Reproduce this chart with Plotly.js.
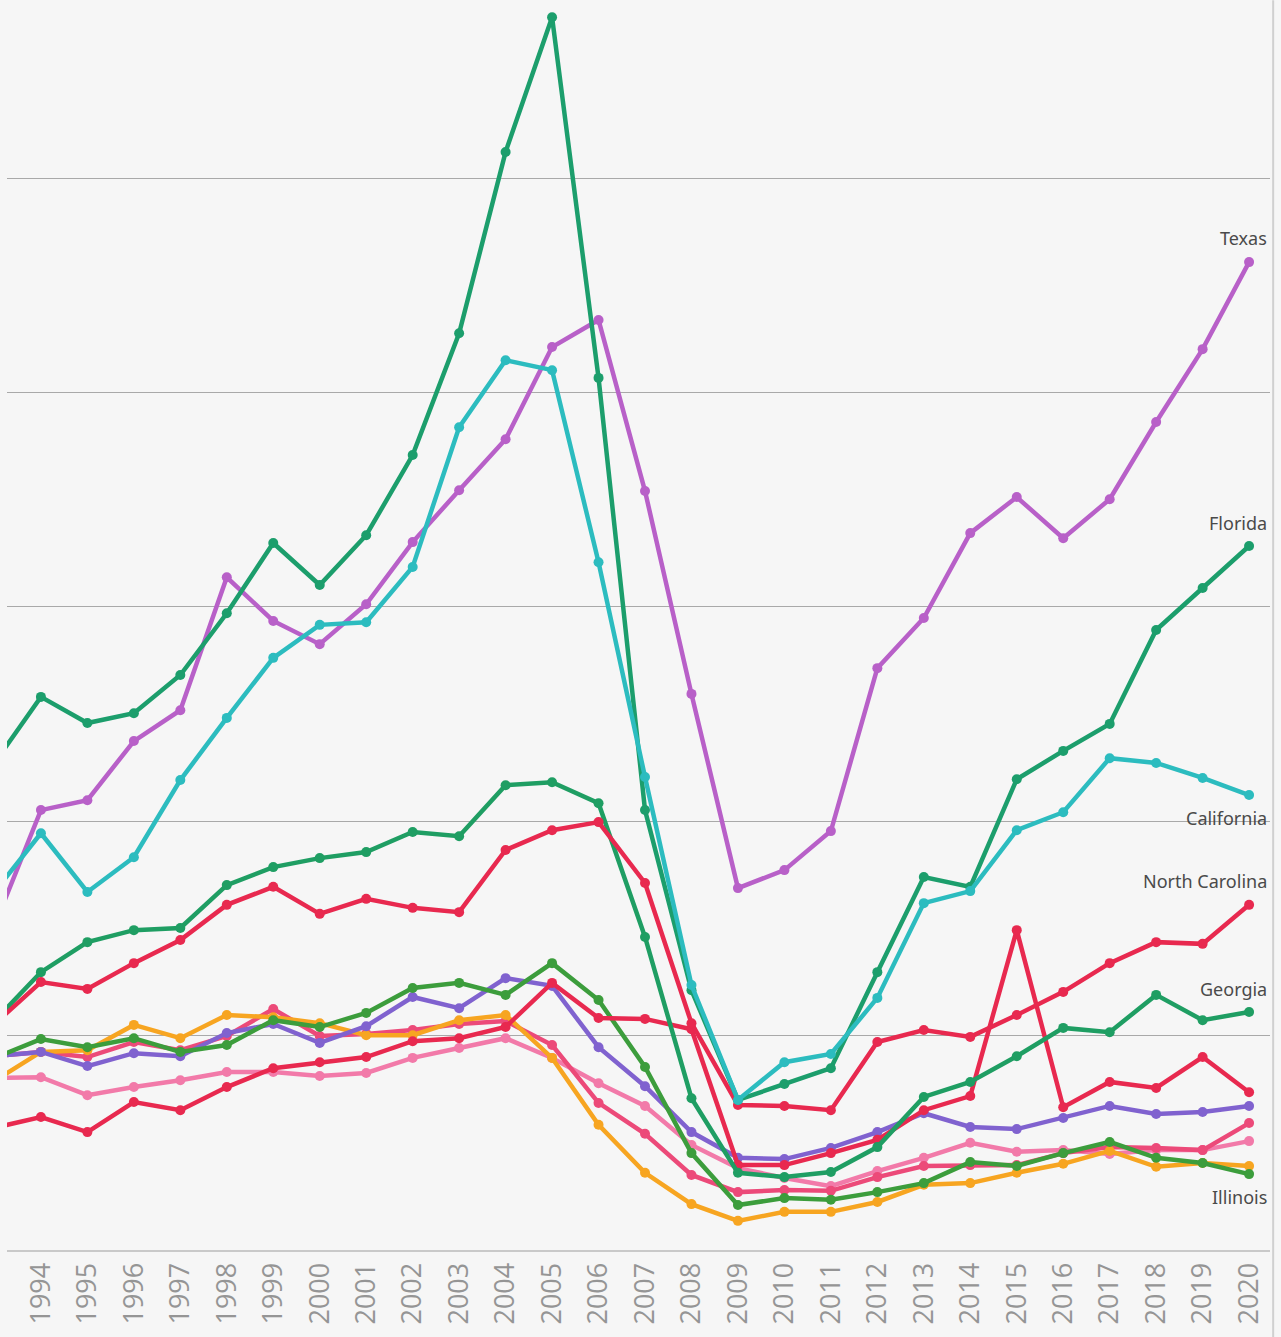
<!DOCTYPE html>
<html>
<head>
<meta charset="utf-8">
<script src="https://cdn.plot.ly/plotly-3.0.1.min.js"></script>
<style>
  html, body { margin: 0; padding: 0; background: #ffffff; }
  #chart { width: 1281px; height: 1337px; }
</style>
</head>
<body>
<div id="chart"></div>
<script>
// Years (1993 lies just beyond the left edge of the visible window)
const years = [1993,1994,1995,1996,1997,1998,1999,2000,2001,2002,2003,2004,2005,2006,2007,2008,2009,2010,2011,2012,2013,2014,2015,2016,2017,2018,2019,2020];
const tickYears = ["1994","1995","1996","1997","1998","1999","2000","2001","2002","2003","2004","2005","2006","2007","2008","2009","2010","2011","2012","2013","2014","2015","2016","2017","2018","2019","2020"];

// Values (thousands)
const texas = [75.6,102.6,104.9,118.7,125.9,156.9,146.7,141.3,150.6,165.1,177.2,189.1,210.6,216.9,177.0,129.7,84.4,88.6,97.7,135.7,147.4,167.2,175.6,166.0,175.1,193.1,210.1,230.4];
const florida = [113.6,129.0,122.9,125.2,134.1,148.5,164.9,155.1,166.7,185.4,213.8,256.1,287.5,203.4,102.6,60.6,35.0,38.7,42.4,64.8,87.0,84.7,109.8,116.4,122.7,144.6,154.4,164.2];
const california = [83.5,97.2,83.5,91.6,109.6,124.1,138.1,145.8,146.4,159.3,191.9,207.5,205.2,160.4,110.3,61.8,35.0,43.8,45.7,58.8,80.9,83.7,97.9,102.1,114.7,113.6,110.1,106.1];
const northCarolina = [52.7,62.5,60.9,66.9,72.3,80.5,84.7,78.4,81.9,79.8,78.8,93.3,97.9,99.8,85.6,52.9,33.8,33.6,32.6,48.5,51.3,49.7,54.8,60.2,66.9,71.8,71.4,80.5];
const georgia = [53.4,64.8,71.8,74.6,75.1,85.1,89.3,91.4,92.8,97.5,96.5,108.4,109.1,104.2,73.0,35.4,18.0,17.0,18.2,24.0,35.7,39.2,45.2,51.8,50.8,59.5,53.6,55.5];
const illinois = [44.8,49.2,47.3,49.4,46.2,47.8,53.6,52.0,55.3,61.1,62.3,59.5,66.9,58.3,42.7,22.6,10.5,12.1,11.7,13.5,15.6,20.5,19.6,22.6,25.2,21.5,20.3,17.7];
const newYork = [28.5,31.0,27.5,34.5,32.6,38.0,42.4,43.8,45.0,48.7,49.4,52.0,62.3,54.1,53.9,51.5,19.8,19.8,22.6,25.7,32.6,35.9,74.6,33.3,39.2,37.8,45.0,36.8];
const virginia = [45.2,46.2,42.9,45.9,45.2,50.6,52.7,48.3,52.2,59.0,56.4,63.4,61.6,47.3,38.2,27.5,21.5,21.2,23.8,27.5,31.9,28.7,28.2,30.8,33.6,31.7,32.2,33.6];
const michigan = [39.4,46.2,46.6,52.5,49.4,54.8,54.3,52.9,50.1,50.1,53.6,54.8,44.8,29.2,18.0,10.7,6.8,8.9,8.9,11.2,15.2,15.6,18.0,20.1,23.1,19.4,20.3,19.6];
const ohio = [40.1,40.3,36.1,38.0,39.6,41.5,41.5,40.6,41.3,44.8,47.1,49.4,44.8,38.9,33.6,24.5,19.1,16.8,14.9,18.4,21.5,25.0,22.9,23.3,22.4,23.3,23.3,25.4];
const pennsylvania = [45.2,46.2,45.0,48.5,46.6,49.9,56.2,49.9,50.4,51.3,52.7,53.4,47.8,34.3,27.1,17.5,13.5,14.0,13.8,17.0,19.6,19.8,19.8,22.6,24.0,23.8,23.3,29.6];

const seriesDefs = [
  {name: "Ohio", y: ohio, color: "#f27aa9"},
  {name: "Pennsylvania", y: pennsylvania, color: "#ec4a79"},
  {name: "Michigan", y: michigan, color: "#f7a521"},
  {name: "Virginia", y: virginia, color: "#8062cf"},
  {name: "Illinois", y: illinois, color: "#3c9d3c", label: "Illinois", shift: -23},
  {name: "New York", y: newYork, color: "#e8294f"},
  {name: "Georgia", y: georgia, color: "#1f9e63", label: "Georgia", shift: 23},
  {name: "North Carolina", y: northCarolina, color: "#e8294f", label: "North Carolina", shift: 24},
  {name: "Texas", y: texas, color: "#b860c8", label: "Texas", shift: 24},
  {name: "Florida", y: florida, color: "#1c9e6c", label: "Florida", shift: 23},
  {name: "California", y: california, color: "#2cbcbf", label: "California", shift: -23}
];

const traces = seriesDefs.map(s => ({
  type: "scatter",
  mode: "lines+markers",
  name: s.name,
  x: years,
  y: s.y,
  line: {color: s.color, width: 4.5},
  marker: {color: s.color, size: 10},
  hoverinfo: "x+y+name"
}));

const annotations = seriesDefs.filter(s => s.label).map(s => ({
  x: years[years.length - 1],
  y: s.y[s.y.length - 1],
  xref: "x", yref: "y",
  text: s.label,
  showarrow: false,
  xanchor: "right",
  yanchor: "middle",
  xshift: 20,
  yshift: s.shift,
  font: {family: "Noto Sans, sans-serif", size: 18, color: "#4a4a4a"}
}));

const layout = {
  width: 1281,
  height: 1337,
  margin: {l: 7, r: 11, t: 4, b: 87, pad: 0},
  paper_bgcolor: "#f6f6f6",
  plot_bgcolor: "#f6f6f6",
  showlegend: false,
  xaxis: {
    range: [1993.27, 2020.45],
    tickvals: tickYears.map(Number),
    ticktext: tickYears,
    tickangle: -90,
    tickfont: {family: "Open Sans, sans-serif", size: 27, color: "#959595"},
    showgrid: false,
    zeroline: false,
    showline: true,
    linecolor: "#c9c9c9",
    linewidth: 2,
    ticks: "",
    fixedrange: true
  },
  yaxis: {
    range: [0, 290.6],
    tickvals: [50, 100, 150, 200, 250],
    showticklabels: false,
    showgrid: true,
    gridcolor: "#a9a9a9",
    gridwidth: 1,
    zeroline: false,
    showline: false,
    ticks: "",
    fixedrange: true
  },
  shapes: [
    {type: "line", xref: "paper", yref: "paper", x0: 1.0025, x1: 1.0025, y0: -0.07, y1: 1.003,
     line: {color: "#d0d0d0", width: 2}}
  ],
  annotations: annotations
};

Plotly.newPlot("chart", traces, layout, {displayModeBar: false, staticPlot: true});
</script>
</body>
</html>
